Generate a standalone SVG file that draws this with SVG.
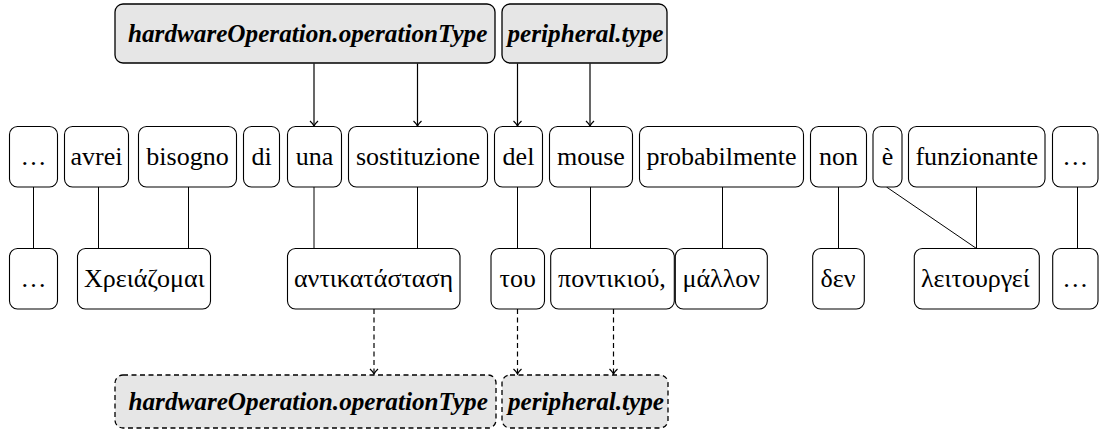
<svg xmlns="http://www.w3.org/2000/svg" width="1099" height="432" viewBox="0 0 1099 432">
<style>
.w{fill:#fff;stroke:#000;stroke-width:1.1}
.g{fill:#e6e6e6;stroke:#000;stroke-width:1.3}
.gd{fill:#e6e6e6;stroke:#000;stroke-width:1.3;stroke-dasharray:5 3.5}
.l{stroke:#000;stroke-width:1;fill:none}
.a{stroke:#000;stroke-width:1.2;fill:none;marker-end:url(#arr)}
.ad{stroke:#000;stroke-width:1.2;fill:none;stroke-dasharray:5 3.5;marker-end:url(#arr)}
</style>
<defs>
<marker id="arr" markerWidth="12" markerHeight="12" refX="10" refY="6" orient="auto" markerUnits="userSpaceOnUse">
<path d="M5,2 Q8,5.3 10,6 Q8,6.7 5,10" fill="none" stroke="#000" stroke-width="1.2"/>
</marker>
</defs>

<g id="connectors">
<line class="a" x1="314" y1="63.5" x2="314" y2="126"/>
<line class="a" x1="417.5" y1="63.5" x2="417.5" y2="126"/>
<line class="a" x1="517.5" y1="63.5" x2="517.5" y2="126"/>
<line class="a" x1="590" y1="63.5" x2="590" y2="126"/>
<line class="l" x1="33.5" y1="187" x2="33.5" y2="248.5"/>
<line class="l" x1="98.5" y1="187" x2="98.5" y2="248.5"/>
<line class="l" x1="188.5" y1="187" x2="188.5" y2="248.5"/>
<line class="l" x1="314" y1="187" x2="314" y2="248.5"/>
<line class="l" x1="417.5" y1="187" x2="417.5" y2="248.5"/>
<line class="l" x1="517.5" y1="187" x2="517.5" y2="248.5"/>
<line class="l" x1="590.5" y1="187" x2="590.5" y2="248.5"/>
<line class="l" x1="722.5" y1="187" x2="722.5" y2="248.5"/>
<line class="l" x1="838.5" y1="187" x2="838.5" y2="248.5"/>
<line class="l" x1="886.5" y1="187" x2="976.5" y2="248.5"/>
<line class="l" x1="976.5" y1="187" x2="976.5" y2="248.5"/>
<line class="l" x1="1077.5" y1="187" x2="1077.5" y2="248.5"/>
<line class="ad" x1="374" y1="309" x2="374" y2="374"/>
<line class="ad" x1="517.5" y1="309" x2="517.5" y2="374"/>
<line class="ad" x1="613.5" y1="309" x2="613.5" y2="374"/>
</g>

<g id="top-hw"><rect class="g" x="115" y="4" width="380" height="59" rx="8"/><text x="128" y="42" font-family="Liberation Serif" font-size="25.2" font-weight="bold" font-style="italic">hardwareOperation.operationType</text></g>
<g id="top-per"><rect class="g" x="502" y="4" width="165" height="59" rx="8"/><text x="507.5" y="42" font-family="Liberation Serif" font-size="25.2" font-weight="bold" font-style="italic">peripheral.type</text></g>

<g id="s1"><rect class="w" x="9.5" y="126.5" width="48" height="60.5" rx="8"/><text x="20.5" y="165" font-family="Liberation Serif" font-size="26">…</text></g>
<g id="s2"><rect class="w" x="64.5" y="126.5" width="64" height="60.5" rx="8"/><text x="70.5" y="165" font-family="Liberation Serif" font-size="26">avrei</text></g>
<g id="s3"><rect class="w" x="138.5" y="126.5" width="98" height="60.5" rx="8"/><text x="146.3" y="165" font-family="Liberation Serif" font-size="26">bisogno</text></g>
<g id="s4"><rect class="w" x="243.5" y="126.5" width="36" height="60.5" rx="8"/><text x="251.4" y="165" font-family="Liberation Serif" font-size="26">di</text></g>
<g id="s5"><rect class="w" x="287.5" y="126.5" width="54" height="60.5" rx="8"/><text x="295.7" y="165" font-family="Liberation Serif" font-size="26">una</text></g>
<g id="s6"><rect class="w" x="348.5" y="126.5" width="139" height="60.5" rx="8"/><text x="355.9" y="165" font-family="Liberation Serif" font-size="26">sostituzione</text></g>
<g id="s7"><rect class="w" x="494.5" y="126.5" width="48" height="60.5" rx="8"/><text x="502.6" y="165" font-family="Liberation Serif" font-size="26">del</text></g>
<g id="s8"><rect class="w" x="549.5" y="126.5" width="83" height="60.5" rx="8"/><text x="557" y="165" font-family="Liberation Serif" font-size="26">mouse</text></g>
<g id="s9"><rect class="w" x="639.5" y="126.5" width="164" height="60.5" rx="8"/><text x="646.4" y="165" font-family="Liberation Serif" font-size="26">probabilmente</text></g>
<g id="s10"><rect class="w" x="810.5" y="126.5" width="56" height="60.5" rx="8"/><text x="819" y="165" font-family="Liberation Serif" font-size="26">non</text></g>
<g id="s11"><rect class="w" x="873" y="126.5" width="29" height="60.5" rx="8"/><text x="881.7" y="165" font-family="Liberation Serif" font-size="26">è</text></g>
<g id="s12"><rect class="w" x="908.5" y="126.5" width="136.5" height="60.5" rx="8"/><text x="915.4" y="165" font-family="Liberation Serif" font-size="26">funzionante</text></g>
<g id="s13"><rect class="w" x="1052.5" y="126.5" width="45.5" height="60.5" rx="8"/><text x="1062.3" y="165" font-family="Liberation Serif" font-size="26">…</text></g>

<g id="t1"><rect class="w" x="9.5" y="248.5" width="48" height="60.5" rx="8"/><text x="20.5" y="287" font-family="Liberation Serif" font-size="26">…</text></g>
<g id="t2"><rect class="w" x="77.5" y="248.5" width="133" height="60.5" rx="8"/><text x="84" y="287" font-family="Liberation Serif" font-size="26">Χρειάζομαι</text></g>
<g id="t3"><rect class="w" x="287.5" y="248.5" width="172.5" height="60.5" rx="8"/><text x="294" y="287" font-family="Liberation Serif" font-size="26">αντικατάσταση</text></g>
<g id="t4"><rect class="w" x="491" y="248.5" width="53.5" height="60.5" rx="8"/><text x="499.5" y="287" font-family="Liberation Serif" font-size="26">του</text></g>
<g id="t5"><rect class="w" x="550.7" y="248.5" width="123.6" height="60.5" rx="8"/><text x="558" y="287" font-family="Liberation Serif" font-size="26">ποντικιού,</text></g>
<g id="t6"><rect class="w" x="675.3" y="248.5" width="92" height="60.5" rx="8"/><text x="682.5" y="287" font-family="Liberation Serif" font-size="26">μάλλον</text></g>
<g id="t7"><rect class="w" x="812.7" y="248.5" width="51.6" height="60.5" rx="8"/><text x="820.5" y="287" font-family="Liberation Serif" font-size="26">δεν</text></g>
<g id="t8"><rect class="w" x="914.3" y="248.5" width="125" height="60.5" rx="8"/><text x="921" y="287" font-family="Liberation Serif" font-size="26">λειτουργεί</text></g>
<g id="t9"><rect class="w" x="1052.7" y="248.5" width="45.3" height="60.5" rx="8"/><text x="1062.3" y="287" font-family="Liberation Serif" font-size="26">…</text></g>

<g id="bot-hw"><rect class="gd" x="115" y="375" width="381" height="53" rx="8"/><text x="128.5" y="410" font-family="Liberation Serif" font-size="25.2" font-weight="bold" font-style="italic">hardwareOperation.operationType</text></g>
<g id="bot-per"><rect class="gd" x="502" y="375" width="166" height="53" rx="8"/><text x="508" y="410" font-family="Liberation Serif" font-size="25.2" font-weight="bold" font-style="italic">peripheral.type</text></g>
</svg>
